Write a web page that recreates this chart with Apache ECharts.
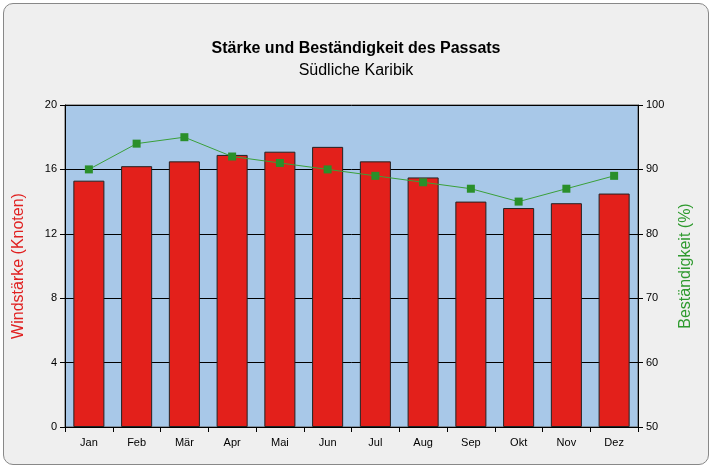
<!DOCTYPE html>
<html><head><meta charset="utf-8">
<script src="https://cdn.jsdelivr.net/npm/echarts@6/dist/echarts.min.js"></script>
<style>html,body{margin:0;padding:0;background:#fff}
#frame{position:absolute;left:3px;top:3px;width:704px;height:460px;border:1px solid #888;border-radius:10px;background:#efefef}
#c{position:absolute;left:0;top:0;width:712px;height:468px}</style></head>
<body><div id="frame"></div><div id="c"></div>
<script>
const categories=['Jan','Feb','Mär','Apr','Mai','Jun','Jul','Aug','Sep','Okt','Nov','Dez'];
const windstaerke=[15.3,16.2,16.5,16.9,17.1,17.4,16.5,15.5,14.0,13.6,13.9,14.5];
const bestaendigkeit=[90,94,95,92,91,90,89,88,87,85,87,89];
const chart=echarts.init(document.getElementById('c'));
chart.setOption({
 animation:false,
 title:{text:'Stärke und Beständigkeit des Passats',subtext:'Südliche Karibik',left:'center',top:36,itemGap:6,
  textStyle:{fontFamily:'Liberation Sans',fontSize:16,fontWeight:'bold',color:'#000'},
  subtextStyle:{fontFamily:'Liberation Sans',fontSize:16,color:'#000'}},
 grid:{left:65,right:74,top:105,bottom:41,show:true,backgroundColor:'#a8c8e8',borderColor:'#555',borderWidth:1},
 xAxis:{type:'category',data:categories,axisLine:{lineStyle:{color:'#000'}},axisTick:{show:true,alignWithLabel:false},
  axisLabel:{color:'#000',fontSize:11,fontFamily:'Liberation Sans',margin:10}},
 yAxis:[{type:'value',min:0,max:20,interval:4,name:'Windstärke (Knoten)',nameLocation:'middle',nameGap:38,
   nameTextStyle:{color:'#e02020',fontSize:16,fontFamily:'Liberation Sans'},
   axisLine:{show:true,lineStyle:{color:'#000'}},axisTick:{show:true},axisLabel:{color:'#000',fontSize:11},
   splitLine:{lineStyle:{color:'#000',width:1}}},
  {type:'value',min:50,max:100,interval:10,name:'Beständigkeit (%)',nameLocation:'middle',nameGap:40,nameRotate:90,
   nameTextStyle:{color:'#2e9a2e',fontSize:16,fontFamily:'Liberation Sans'},
   axisLine:{show:true,lineStyle:{color:'#000'}},axisTick:{show:true},axisLabel:{color:'#000',fontSize:11},splitLine:{show:false}}],
 series:[{type:'bar',data:windstaerke,barWidth:'65%',itemStyle:{color:'#e3201b',borderColor:'#222',borderWidth:1}},
  {type:'line',yAxisIndex:1,data:bestaendigkeit,symbol:'rect',symbolSize:8,itemStyle:{color:'#2a8f2a'},lineStyle:{color:'#3aa03a',width:1}}]
});
</script></body></html>
